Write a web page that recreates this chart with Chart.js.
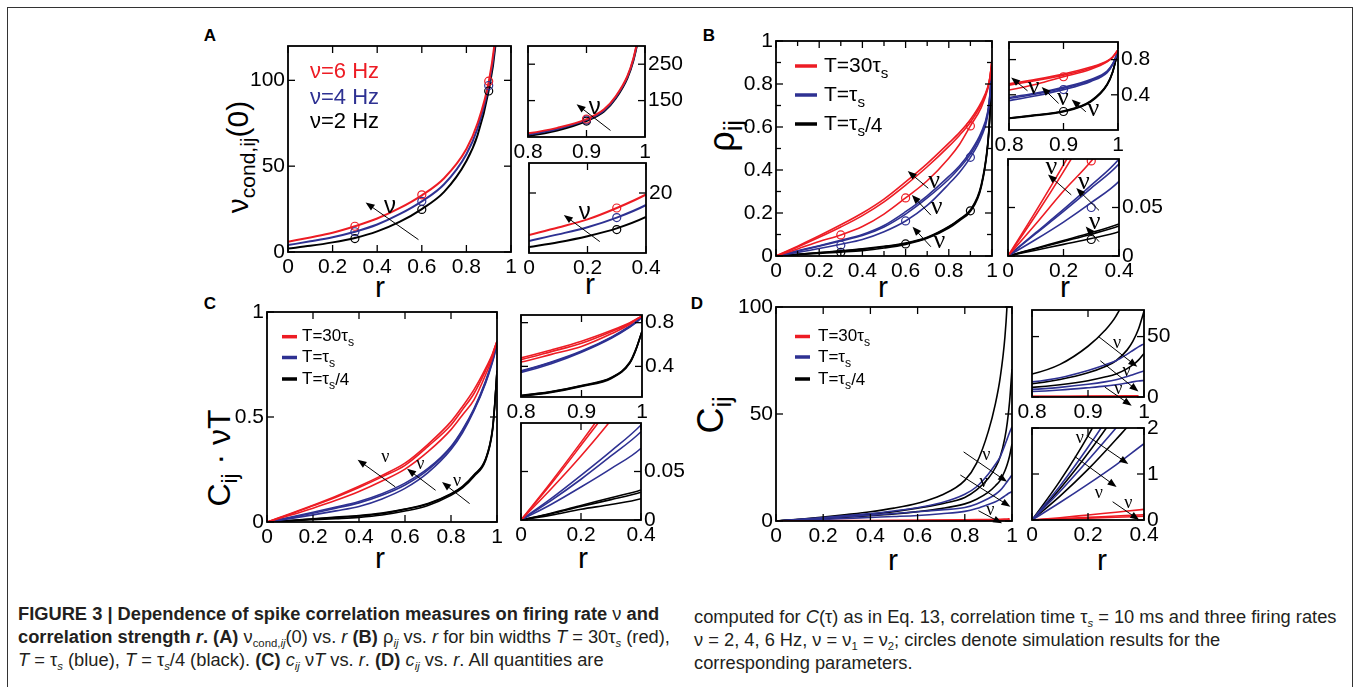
<!DOCTYPE html>
<html>
<head>
<meta charset="utf-8">
<script src="https://cdn.jsdelivr.net/npm/chart.js"></script>
<style>
body { margin: 0; width: 1354px; height: 687px; overflow: hidden; background: #fff; position: relative;
       font-family: "Liberation Sans", Arial, sans-serif; }
.frame { position: absolute; left: 7px; top: 7px; width: 1344px; height: 700px; border: 1.5px solid #333; border-bottom: none; }
canvas { position: absolute; }
.t { position: absolute; white-space: nowrap; color: #000; line-height: 1; }
.rot { transform: translate(-50%, -50%) rotate(-90deg); }
.ctr { transform: translate(-50%, -50%); }
.lab { font-weight: bold; font-size: 17px; }
.sb { font-size: 0.7em; position: relative; top: 0.32em; }
.cap { position: absolute; top: 602px; font-family: "Liberation Sans Narrow", "Liberation Sans", Arial, sans-serif;
       font-size: 18.3px; line-height: 23px; white-space: nowrap; color: #231f20; }
.cap sub { font-size: 62%; line-height: 0; vertical-align: baseline; position: relative; top: 0.35em; }
</style>
</head>
<body>
<div class="frame"></div>

<!-- panel letters -->
<div class="t lab ctr" style="left:210px;top:35px">A</div>
<div class="t lab ctr" style="left:709px;top:35px">B</div>
<div class="t lab ctr" style="left:210px;top:303px">C</div>
<div class="t lab ctr" style="left:697px;top:303px">D</div>

<!-- axis titles -->
<div class="t rot" style="left:238px;top:157px;font-size:30px">ν<span class="sb">cond,ij</span>(0)</div>
<div class="t rot" style="left:722px;top:136px;font-size:36px">ρ<span class="sb">ij</span></div>
<div class="t rot" style="left:219px;top:458px;font-size:32px">C<span class="sb">ij</span> · νT</div>
<div class="t rot" style="left:711px;top:415px;font-size:36px">C<span class="sb">ij</span></div>
<div class="t ctr" style="left:380px;top:287px;font-size:30px">r</div>
<div class="t ctr" style="left:590px;top:284px;font-size:30px">r</div>
<div class="t ctr" style="left:883px;top:287px;font-size:30px">r</div>
<div class="t ctr" style="left:1065px;top:287px;font-size:30px">r</div>
<div class="t ctr" style="left:380px;top:558px;font-size:30px">r</div>
<div class="t ctr" style="left:583px;top:558px;font-size:30px">r</div>
<div class="t ctr" style="left:893px;top:560px;font-size:30px">r</div>
<div class="t ctr" style="left:1102px;top:560px;font-size:30px">r</div>

<!-- caption -->
<div class="cap" style="left:18px">
<b>FIGURE 3 | Dependence of spike correlation measures on firing rate</b> ν <b>and</b><br>
<b>correlation strength <i>r</i>. (A)</b> ν<sub>cond,<i>ij</i></sub>(0) vs. <i>r</i> <b>(B)</b> ρ<sub><i>ij</i></sub> vs. <i>r</i> for bin widths <i>T</i> = 30τ<sub><i>s</i></sub> (red),<br>
<i>T</i> = τ<sub><i>s</i></sub> (blue), <i>T</i> = τ<sub><i>s</i></sub>/4 (black). <b>(C)</b> <i>c<sub>ij</sub></i> ν<i>T</i> vs. <i>r</i>. <b>(D)</b> <i>c<sub>ij</sub></i> vs. <i>r</i>. All quantities are
</div>
<div class="cap" style="left:694px;top:605px">
computed for <i>C</i>(τ) as in Eq. 13, correlation time τ<sub><i>s</i></sub> = 10 ms and three firing rates<br>
ν = 2, 4, 6 Hz, ν = ν<sub>1</sub> = ν<sub>2</sub>; circles denote simulation results for the<br>
corresponding parameters.
</div>

<script>
// ---- data ----
const simR = [0.3, 0.6, 0.9];

// A: nu_cond,ij(0) vs r
const aR = [0, 0.1, 0.2, 0.3, 0.4, 0.5, 0.6, 0.7, 0.8, 0.85, 0.9, 0.93, 0.95, 0.97, 0.98, 0.99];
const aNu6 = [6, 8.5, 11.2, 15, 19.5, 25.5, 33, 43, 60, 75, 99, 126, 162, 218, 265, 335];
const aNu4 = [4, 6.2, 8.6, 11.8, 16, 22, 29.5, 39.5, 57, 72, 97, 123, 159, 215, 262, 332];
const aNu2 = [2, 3.6, 5.6, 8.2, 12, 17.5, 25, 35, 53, 68, 94, 120, 156, 212, 259, 329];
const aSim6 = [15, 33.3, 99.5];
const aSim4 = [11.8, 29.5, 97];
const aSim2 = [7.8, 24.8, 93.8];

// B: rho_ij vs r (three nu per bin width)
const bR = [0, 0.1, 0.2, 0.3, 0.4, 0.5, 0.6, 0.7, 0.8, 0.85, 0.9, 0.95, 0.98, 0.99, 1];
const bRed6 = [0, .046, .094, .145, .2, .265, .345, .43, .525, .575, .635, .715, .785, .83, .91];
const bRed4 = [0, .042, .087, .135, .188, .252, .33, .415, .51, .562, .622, .705, .78, .827, .91];
const bRed2 = [0, .033, .067, .098, .137, .195, .27, .35, .455, .52, .605, .69, .775, .825, .91];
const bBlue6 = [0, .024, .048, .073, .1, .142, .206, .28, .37, .42, .485, .575, .67, .75, .89];
const bBlue4 = [0, .023, .046, .07, .095, .135, .195, .27, .357, .41, .474, .565, .662, .745, .89];
const bBlue2 = [0, .017, .035, .055, .077, .113, .163, .235, .335, .39, .459, .552, .652, .74, .89];
const bBlack6 = [0, .008, .016, .024, .033, .045, .06, .087, .137, .172, .215, .33, .52, .66, .9];
const bBlack4 = [0, .0075, .015, .0225, .031, .043, .058, .085, .135, .17, .212, .325, .515, .655, .9];
const bBlack2 = [0, .006, .012, .018, .025, .037, .054, .082, .13, .165, .208, .32, .51, .65, .9];
const bSimRed = [.098, .27, .605];
const bSimBlue = [.05, .163, .459];
const bSimBlack = [.017, .056, .21];

// C: c_ij * nu * T vs r
const cR = bR;
const cRed6 = [0, .039, .08, .123, .17, .222, .28, .37, .478, .55, .63, .73, .8, .83, .86];
const cRed4 = [0, .037, .077, .118, .164, .215, .27, .36, .462, .535, .612, .72, .795, .83, .86];
const cRed2 = [0, .032, .066, .103, .145, .195, .252, .335, .44, .51, .582, .7, .785, .825, .86];
const cBlue6 = [0, .022, .046, .071, .098, .135, .185, .255, .36, .44, .54, .67, .77, .81, .86];
const cBlue4 = [0, .02, .042, .066, .091, .127, .176, .248, .355, .435, .535, .665, .765, .805, .855];
const cBlue2 = [0, .016, .034, .053, .074, .11, .16, .235, .345, .425, .53, .66, .76, .8, .85];
const cBlack6 = [0, .007, .015, .023, .031, .043, .062, .088, .135, .17, .225, .3, .44, .56, .72];
const cBlack4 = [0, .0065, .014, .021, .0286, .04, .06, .086, .132, .167, .222, .297, .435, .555, .72];
const cBlack2 = [0, .005, .011, .016, .022, .033, .052, .079, .127, .162, .217, .292, .43, .55, .72];

// D: c_ij vs r
const dR = [0, 0.1, 0.2, 0.3, 0.4, 0.5, 0.6, 0.7, 0.8, 0.85, 0.9, 0.93, 0.95, 0.97, 0.98, 0.99, 1];
const dBlack2 = [0, .85, 1.83, 3, 4.3, 6, 8.3, 12, 19, 27, 42, 55, 67, 86, 103, 135, 200];
const dBlack4 = [0, .68, 1.45, 2.3, 3.2, 4.4, 6, 8, 11, 14.5, 20, 25, 30, 39, 46, 56, 71];
const dBlack6 = [0, .52, 1.1, 1.75, 2.45, 3.3, 4.4, 5.8, 8, 10.2, 13.5, 16.5, 19, 23.5, 26.5, 30.5, 36];
const dBlue2 = [0, .74, 1.58, 2.5, 3.5, 4.7, 6.2, 8.5, 12.5, 16, 22, 26.5, 30, 35.5, 38.5, 41.5, 44];
const dBlue4 = [0, .62, 1.3, 2.0, 2.75, 3.5, 4.3, 5.2, 6.3, 8, 10.5, 12.5, 14.3, 17, 18.5, 20, 21.5];
const dBlue6 = [0, .38, .78, 1.2, 1.66, 2.1, 2.6, 3.4, 4.5, 5.8, 7.7, 9, 10.2, 11.7, 12.5, 13.2, 13.7];
const dRed2 = [0, .05, .11, .17, .23, .3, .38, .47, .58, .65, .73, .8, .85, .92, .96, 1.0, null];
const dRed4 = [0, .028, .057, .086, .115, .15, .19, .235, .29, .32, .36, .39, .41, .44, .46, .48, null];
const dRed6 = [0, .02, .04, .06, .08, .105, .13, .165, .2, .225, .25, .27, .29, .31, .32, .33, null];

// tick values
const fullTicks = [0, 0.2, 0.4, 0.6, 0.8, 1];
const highTicks = [0.8, 0.9, 1];
const lowTicks = [0, 0.2, 0.4];
const tenths = [0.1, 0.3, 0.5, 0.7, 0.9];

// legend labels
const nuLabels = ['ν=6 Hz', 'ν=4 Hz', 'ν=2 Hz'];
const binLabels = [['T=30τ', 's', ''], ['T=τ', 's', ''], ['T=τ', 's', '/4']];

// arrow annotations in data units: [x1, y1, x2 (head), y2 (head), labelX, labelY]
const aMainArrows = [[0.585, 7.2, 0.348, 28.8, 0.457, 26.3]];
const aTopArrows = [[0.941, 68, 0.883, 140, 0.914, 132]];
const aBotArrows = [[0.242, 3.8, 0.119, 12.7, 0.191, 13.4]];
const bMainArrows = [[0.705, 0.315, 0.61, 0.395, 0.732, 0.346], [0.717, 0.19, 0.629, 0.284, 0.744, 0.229], [0.717, 0.043, 0.632, 0.136, 0.756, 0.067]];
const bTopArrows = [[0.834, 0.445, 0.804, 0.597, 0.845, 0.49], [0.891, 0.302, 0.86, 0.49, 0.899, 0.359], [0.941, 0.207, 0.915, 0.348, 0.955, 0.234]];
const bBotArrows = [[0.228, 0.063, 0.144, 0.084, 0.156, 0.092], [0.328, 0.047, 0.246, 0.070, 0.273, 0.076], [0.328, 0.0148, 0.28, 0.0303, 0.312, 0.0344]];
const cMainArrows = [[0.558, 0.167, 0.394, 0.297, 0.514, 0.31], [0.733, 0.151, 0.609, 0.254, 0.667, 0.273], [0.881, 0.0876, 0.761, 0.19, 0.826, 0.195]];
const dMainArrows = [[0.795, 32.3, 0.979, 18.3, 0.891, 30.8], [0.781, 21.5, 0.993, 6.7, 0.88, 17.9], [0.858, 4.8, 0.958, -1.1, 0.908, 5.1]];
const dTopArrows = [[0.918, 50.3, 0.988, 25, 0.952, 44.8], [0.922, 30, 0.99, 4.6, 0.969, 21.1], [0.930, 8.2, 0.978, -7.2, 0.954, 6]];
const dBotArrows = [[0.195, 1.84, 0.344, 1.22, 0.171, 1.78], [0.153, 1.38, 0.302, 0.72, 0.239, 0.59], [0.288, 0.397, 0.383, 0, 0.344, 0.36]];

const RED = '#ed1c24', BLUE = '#2e3192', BLACK = '#000';

Chart.defaults.font.family = '"Liberation Sans", Arial, sans-serif';
Chart.defaults.color = '#000';

function fmt(v) { return String(+v.toFixed(3)); }

function curve(xs, ys, color, width) {
    return {
        data: xs.map((x, i) => ({ x: x, y: ys[i] })).filter(p => p.y != null),
        borderColor: color, borderWidth: width, pointRadius: 0,
        cubicInterpolationMode: 'monotone', fill: false
    };
}

function sims(xs, ys, color) {
    return {
        data: xs.map((x, i) => ({ x: x, y: ys[i] })),
        showLine: false, pointRadius: 4, pointBorderWidth: 1.2,
        pointBorderColor: color, pointBackgroundColor: 'rgba(0,0,0,0)'
    };
}

function drawRich(ctx, parts, x, y, size, family) {
    ctx.font = size + 'px ' + family;
    ctx.fillText(parts[0], x, y);
    let w = ctx.measureText(parts[0]).width;
    ctx.font = (size * 0.72) + 'px ' + family;
    ctx.fillText(parts[1], x + w, y + size * 0.36);
    w += ctx.measureText(parts[1]).width;
    if (parts[2]) {
        ctx.font = size + 'px ' + family;
        ctx.fillText(parts[2], x + w, y + size * 0.1);
    }
}

function drawArrow(ctx, x1, y1, x2, y2) {
    const ang = Math.atan2(y2 - y1, x2 - x1), L = 9, W = 3.5;
    ctx.beginPath();
    ctx.moveTo(x1, y1);
    ctx.lineTo(x2 - Math.cos(ang) * L * 0.8, y2 - Math.sin(ang) * L * 0.8);
    ctx.stroke();
    ctx.beginPath();
    ctx.moveTo(x2, y2);
    ctx.lineTo(x2 - Math.cos(ang) * L - Math.sin(ang) * W, y2 - Math.sin(ang) * L + Math.cos(ang) * W);
    ctx.lineTo(x2 - Math.cos(ang) * L + Math.sin(ang) * W, y2 - Math.sin(ang) * L - Math.cos(ang) * W);
    ctx.closePath();
    ctx.fill();
}

// frame with inward ticks, arrows and in-plot legends
const notesPlugin = {
    id: 'notes',
    afterDatasetsDraw(chart, args, o) {
        const { ctx, chartArea: a, scales: { x, y } } = chart;
        ctx.save();
        ctx.strokeStyle = '#000';
        ctx.fillStyle = '#000';
        ctx.lineWidth = 1.8;
        ctx.strokeRect(a.left, a.top, a.right - a.left, a.bottom - a.top);
        ctx.lineWidth = 1.3;
        const tick = (px, py, dx, dy) => { ctx.beginPath(); ctx.moveTo(px, py); ctx.lineTo(px + dx, py + dy); ctx.stroke(); };
        const xTicks = (vals, len) => vals.forEach(v => {
            const px = x.getPixelForValue(v);
            tick(px, a.bottom, 0, -len); tick(px, a.top, 0, len);
        });
        const yTicks = (vals, len) => vals.forEach(v => {
            const py = y.getPixelForValue(v);
            tick(a.left, py, len, 0); tick(a.right, py, -len, 0);
        });
        xTicks(x.ticks.map(t => t.value), 7);
        yTicks(y.ticks.map(t => t.value), 7);
        if (o.minorX) xTicks(o.minorX, 5);
        if (o.minorY) yTicks(o.minorY, 5);

        ctx.lineWidth = 1;
        ctx.textAlign = 'center';
        ctx.textBaseline = 'middle';
        (o.arrows || []).forEach(r => {
            drawArrow(ctx, x.getPixelForValue(r[0]), y.getPixelForValue(r[1]),
                x.getPixelForValue(r[2]), y.getPixelForValue(r[3]));
            ctx.font = o.nuFont;
            ctx.fillText('ν', x.getPixelForValue(r[4]), y.getPixelForValue(r[5]));
        });

        const lg = o.legend;
        if (lg) {
            ctx.textAlign = 'left';
            lg.rows.forEach((ry, i) => {
                const yy = a.top + ry;
                ctx.fillStyle = lg.colors[i];
                ctx.strokeStyle = lg.colors[i];
                if (lg.kind === 'text') {
                    ctx.font = lg.size + 'px ' + lg.family;
                    ctx.fillText(lg.labels[i], a.left + lg.tx, yy);
                } else {
                    ctx.lineWidth = 3.5;
                    ctx.beginPath();
                    ctx.moveTo(a.left + lg.lx[0], yy);
                    ctx.lineTo(a.left + lg.lx[1], yy);
                    ctx.stroke();
                    ctx.fillStyle = '#000';
                    drawRich(ctx, lg.labels[i], a.left + lg.tx, yy, lg.size, lg.family);
                }
            });
        }
        ctx.restore();
    }
};

function panel(rect, o) {
    const yRight = !!o.yRight;
    const padL = yRight ? 24 : 52, padR = yRight ? 56 : 14, padT = 14, padB = 36;
    const w = rect[2] - rect[0] + padL + padR, h = rect[3] - rect[1] + padT + padB;
    const cv = document.createElement('canvas');
    cv.width = w; cv.height = h;
    cv.style.left = (rect[0] - padL) + 'px';
    cv.style.top = (rect[1] - padT) + 'px';
    cv.style.width = w + 'px';
    cv.style.height = h + 'px';
    document.body.appendChild(cv);

    new Chart(cv, {
        type: 'line',
        data: { datasets: o.datasets },
        options: {
            responsive: false,
            animation: false,
            devicePixelRatio: 1,
            layout: { padding: { left: yRight ? padL : 0, right: yRight ? 0 : padR, top: padT, bottom: 0 } },
            plugins: { legend: { display: false }, tooltip: { enabled: false }, notes: o.notes },
            scales: {
                x: {
                    type: 'linear', min: o.xr[0], max: o.xr[1],
                    grid: { display: false, drawTicks: false }, border: { display: false },
                    afterBuildTicks: s => { s.ticks = o.xt.map(v => ({ value: v })); },
                    afterFit: s => { s.height = padB; s.paddingLeft = 0; s.paddingRight = 0; },
                    ticks: { font: { size: 21 }, padding: 3, maxRotation: 0, autoSkip: false, callback: v => fmt(v) }
                },
                y: {
                    type: 'linear', position: yRight ? 'right' : 'left', min: o.yr[0], max: o.yr[1],
                    grid: { display: false, drawTicks: false }, border: { display: false },
                    afterBuildTicks: s => { s.ticks = o.yt.map(v => ({ value: v })); },
                    afterFit: s => { s.width = yRight ? padR : padL; s.paddingTop = 0; s.paddingBottom = 0; },
                    ticks: { font: { size: 21 }, padding: 3, autoSkip: false, callback: v => fmt(v) }
                }
            }
        },
        plugins: [notesPlugin]
    });
}

// ---- panel A ----
const aSets = () => [
    sims(simR, aSim6, RED), sims(simR, aSim4, BLUE), sims(simR, aSim2, BLACK),
    curve(aR, aNu6, RED, 2), curve(aR, aNu4, BLUE, 2), curve(aR, aNu2, BLACK, 2)
];
const sansNu = '24px "Liberation Sans", Arial, sans-serif';
panel([288, 46, 511, 252], {
    xr: [0, 1], xt: fullTicks, yr: [0, 120], yt: [0, 50, 100], datasets: aSets(),
    notes: { arrows: aMainArrows, nuFont: sansNu,
        legend: { kind: 'text', tx: 22, rows: [25.7, 51.7, 75.7], colors: [RED, BLUE, BLACK], labels: nuLabels,
            size: 22, family: '"Liberation Sans", Arial, sans-serif' } }
});
panel([528, 46, 645, 137], {
    yRight: true, xr: [0.8, 1], xt: highTicks, yr: [50, 300], yt: [150, 250], datasets: aSets(),
    notes: { arrows: aTopArrows, nuFont: sansNu }
});
panel([529, 163, 646, 253], {
    yRight: true, xr: [0, 0.4], xt: lowTicks, yr: [0, 30], yt: [20], datasets: aSets(),
    notes: { arrows: aBotArrows, nuFont: sansNu }
});

// ---- panel B ----
const bSets = () => [
    sims(simR, bSimRed, RED), sims(simR, bSimBlue, BLUE), sims(simR, bSimBlack, BLACK),
    curve(bR, bRed6, RED, 1.6), curve(bR, bRed4, RED, 1.6), curve(bR, bRed2, RED, 1.6),
    curve(bR, bBlue6, BLUE, 1.6), curve(bR, bBlue4, BLUE, 1.6), curve(bR, bBlue2, BLUE, 1.6),
    curve(bR, bBlack6, BLACK, 1.6), curve(bR, bBlack4, BLACK, 1.6), curve(bR, bBlack2, BLACK, 1.6)
];
const serifNuB = '26px "Liberation Serif", "Times New Roman", serif';
panel([776, 41, 992, 256], {
    xr: [0, 1], xt: fullTicks, yr: [0, 1], yt: fullTicks, datasets: bSets(),
    notes: { arrows: bMainArrows, nuFont: serifNuB, minorX: tenths, minorY: tenths,
        legend: { kind: 'line', lx: [19, 41], tx: 48, rows: [25, 54, 83], colors: [RED, BLUE, BLACK], labels: binLabels,
            size: 21, family: '"Liberation Sans", Arial, sans-serif' } }
});
panel([1009, 42, 1118, 130], {
    yRight: true, xr: [0.8, 1], xt: highTicks, yr: [0, 1], yt: [0.4, 0.8], datasets: bSets(),
    notes: { arrows: bTopArrows, nuFont: serifNuB }
});
panel([1008, 159, 1119, 256], {
    yRight: true, xr: [0, 0.4], xt: lowTicks, yr: [0, 0.1], yt: [0, 0.05], datasets: bSets(),
    notes: { arrows: bBotArrows, nuFont: serifNuB }
});

// ---- panel C ----
const cSets = () => [
    curve(cR, cRed6, RED, 1.6), curve(cR, cRed4, RED, 1.6), curve(cR, cRed2, RED, 1.6),
    curve(cR, cBlue6, BLUE, 1.6), curve(cR, cBlue4, BLUE, 1.6), curve(cR, cBlue2, BLUE, 1.6),
    curve(cR, cBlack6, BLACK, 1.6), curve(cR, cBlack4, BLACK, 1.6), curve(cR, cBlack2, BLACK, 1.6)
];
const serifNuSmall = '18px "Liberation Serif", "Times New Roman", serif';
panel([267, 312, 497, 522], {
    xr: [0, 1], xt: fullTicks, yr: [0, 1], yt: [0, 0.5, 1], datasets: cSets(),
    notes: { arrows: cMainArrows, nuFont: serifNuSmall,
        legend: { kind: 'line', lx: [15, 30], tx: 35, rows: [24.7, 45.5, 67], colors: [RED, BLUE, BLACK], labels: binLabels,
            size: 17, family: '"Liberation Sans", Arial, sans-serif' } }
});
panel([521, 315, 642, 397], {
    yRight: true, xr: [0.8, 1], xt: highTicks, yr: [0.12, 0.87], yt: [0.4, 0.8], datasets: cSets(),
    notes: {}
});
panel([521, 423, 641, 520], {
    yRight: true, xr: [0, 0.4], xt: lowTicks, yr: [0, 0.1], yt: [0, 0.05], datasets: cSets(),
    notes: {}
});

// ---- panel D ----
const dSets = () => [
    curve(dR, dRed2, RED, 1.6), curve(dR, dRed4, RED, 1.6), curve(dR, dRed6, RED, 1.6),
    curve(dR, dBlue2, BLUE, 1.6), curve(dR, dBlue4, BLUE, 1.6), curve(dR, dBlue6, BLUE, 1.6),
    curve(dR, dBlack2, BLACK, 1.6), curve(dR, dBlack4, BLACK, 1.6), curve(dR, dBlack6, BLACK, 1.6)
];
panel([776, 307, 1012, 521], {
    xr: [0, 1], xt: fullTicks, yr: [0, 100], yt: [0, 50, 100], datasets: dSets(),
    notes: { arrows: dMainArrows, nuFont: serifNuSmall,
        legend: { kind: 'line', lx: [19, 34], tx: 42, rows: [29.5, 50, 72], colors: [RED, BLUE, BLACK], labels: binLabels,
            size: 17, family: '"Liberation Sans", Arial, sans-serif' } }
});
panel([1032, 310, 1144, 397], {
    yRight: true, xr: [0.8, 1], xt: highTicks, yr: [0, 72], yt: [0, 50], datasets: dSets(),
    notes: { arrows: dTopArrows, nuFont: serifNuSmall }
});
panel([1032, 428, 1144, 520], {
    yRight: true, xr: [0, 0.4], xt: lowTicks, yr: [0, 2], yt: [0, 1, 2], datasets: dSets(),
    notes: { arrows: dBotArrows, nuFont: serifNuSmall }
});
</script>
</body>
</html>
